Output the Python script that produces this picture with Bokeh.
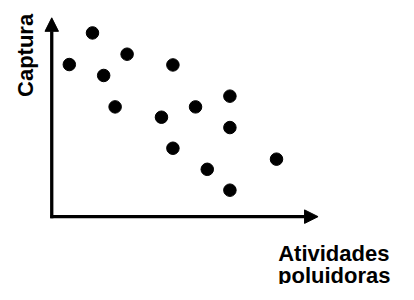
import math
from bokeh.plotting import figure
from bokeh.models import Range1d, Arrow, NormalHead, Label
from bokeh.embed import file_html
from bokeh.resources import INLINE

# Data (arbitrary units, origin at axes corner)
atividades = [0.66, 1.53, 2.83, 1.95, 2.38, 4.55, 4.12, 5.40, 6.69, 6.69, 4.55, 5.84, 6.69, 8.44]
captura = [7.65, 9.24, 8.17, 7.10, 5.52, 7.63, 5.00, 5.52, 6.06, 4.48, 3.44, 2.38, 1.33, 2.89]
x_label = ["Atividades", "poluidoras"]
y_label = "Captura"
axis_max = 10

W, H = 398, 284
p = figure(width=W, height=H, output_backend="svg", toolbar_location=None,
           x_range=Range1d(-1.924, 13.021), y_range=Range1d(-3.414, 10.871),
           min_border=0)
p.axis.visible = False
p.grid.visible = False
p.outline_line_color = None
p.background_fill_color = "white"
p.border_fill_color = "white"

p.scatter(atividades, captura, size=12.5, color="black")

p.add_layout(Arrow(end=NormalHead(size=13.5, fill_color="black", line_color="black"),
                   x_start=-0.05, y_start=0, x_end=axis_max, y_end=0,
                   line_width=3.3, line_color="black"))
p.add_layout(Arrow(end=NormalHead(size=13.5, fill_color="black", line_color="black"),
                   x_start=0, y_start=-0.08, x_end=0, y_end=axis_max,
                   line_width=3.3, line_color="black"))

font = "Liberation Sans"
p.add_layout(Label(x=-0.97, y=8.11, text=y_label, angle=math.pi / 2,
                   text_align="center", text_baseline="alphabetic",
                   text_font=font, text_font_style="bold", text_font_size="22px",
                   text_color="black"))
p.add_layout(Label(x=12.68, y=-1.86, text=x_label[0], text_align="right",
                   text_baseline="alphabetic", text_font=font, text_font_style="bold",
                   text_font_size="22px", text_color="black"))
p.add_layout(Label(x=12.72, y=-2.94, text=x_label[1], text_align="right",
                   text_baseline="alphabetic", text_font=font, text_font_style="bold",
                   text_font_size="22px", text_color="black"))

open("out.html", "w").write(file_html(p, INLINE))
